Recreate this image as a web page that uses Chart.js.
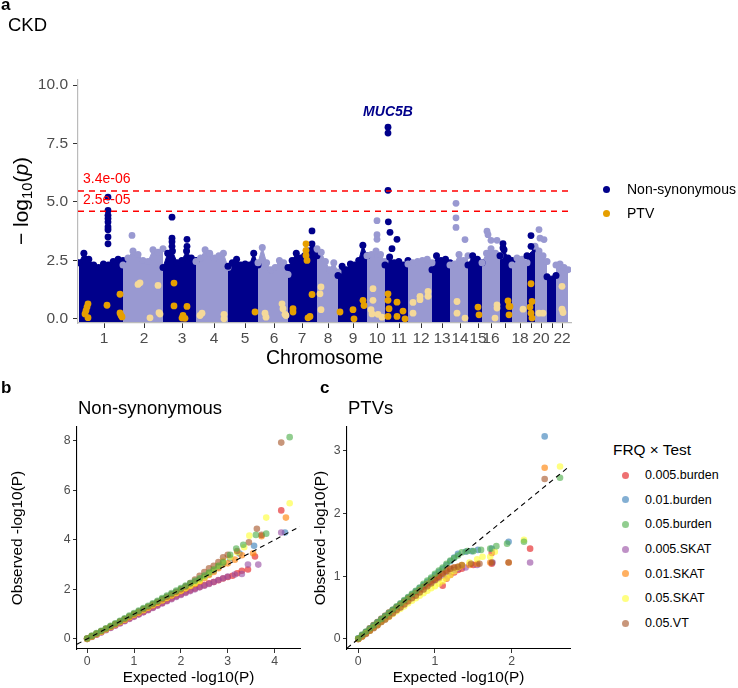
<!DOCTYPE html>
<html><head><meta charset="utf-8">
<script src="https://cdn.jsdelivr.net/npm/chart.js@4.4.1/dist/chart.umd.min.js"></script>
<style>
html,body{margin:0;padding:0;background:#fff;}
#wrap{position:relative;width:738px;height:688px;overflow:hidden;font-family:'Liberation Sans',Arial,Helvetica,sans-serif;color:#000;}
canvas{position:absolute;}
.t{position:absolute;white-space:nowrap;line-height:1;}
.dot{position:absolute;border-radius:50%;width:7px;height:7px;}
</style></head><body>
<div id="wrap">
<canvas id="ca" width="738" height="380" style="left:0;top:0;width:738px;height:380px"></canvas>
<canvas id="cb" width="310" height="308" style="left:0;top:380px;width:310px;height:308px"></canvas>
<canvas id="cc" width="290" height="308" style="left:310px;top:380px;width:290px;height:308px"></canvas>

<div class="t" style="left:1px;top:-4.4px;font-size:17px;font-weight:bold">a</div>
<div class="t" style="left:8px;top:16.3px;font-size:18.5px">CKD</div>
<div class="t" style="left:388px;top:104.1px;font-size:14px;font-weight:bold;font-style:italic;color:#00008B;transform:translateX(-50%)">MUC5B</div>
<div class="t" id="thr0" style="left:83px;top:171.1px;font-size:14px;color:#FF0000"></div>
<div class="t" id="thr1" style="left:83px;top:192.1px;font-size:14px;color:#FF0000"></div>
<div class="t" style="left:20px;top:201px;font-size:21px;transform:translate(-50%,-50%) rotate(-90deg)">&minus;&nbsp;log<span style="font-size:0.7em;position:relative;top:0.3em">10</span>(<i>p</i>)</div>
<div class="dot" style="left:602.5px;top:185.5px;background:#00008B"></div>
<div class="t" style="left:627px;top:182.1px;font-size:14px">Non-synonymous</div>
<div class="dot" style="left:602.5px;top:209.5px;background:#E69F00"></div>
<div class="t" style="left:627px;top:206.1px;font-size:14px">PTV</div>

<div class="t" style="left:1px;top:378.6px;font-size:17px;font-weight:bold">b</div>
<div class="t" style="left:320px;top:378.6px;font-size:17px;font-weight:bold">c</div>
<div class="t" style="left:78px;top:399.3px;font-size:18.5px">Non-synonymous</div>
<div class="t" style="left:348px;top:399.3px;font-size:18.5px">PTVs</div>
<div class="t" style="left:613px;top:441.5px;font-size:15.4px">FRQ &times; Test</div>
<div id="qqLegend"></div>
</div>
<script>
// ---------------- Panel a: Manhattan data ----------------
const chromosomes = ['1','2','3','4','5','6','7','8','9','10','11','12','13','14','15','16','17','18','19','20','21','22'];
const chrLabels  = ['1','2','3','4','5','6','7','8','9','10','11','12','13','14','15','16','','18','','20','','22'];
// cumulative genomic position (Mb-like units): chromosome extent and axis tick
const chrStart = [6,270,510,708,900,1080,1260,1434,1560,1734,1842,1980,2124,2232,2340,2424,2532,2604,2694,2742,2814,2868];
const chrEnd   = [270,510,708,900,1080,1260,1434,1560,1734,1842,1980,2124,2232,2340,2424,2532,2604,2694,2742,2814,2868,2940];
const chrTick  = [156,396,624,816,1002,1176,1344,1500,1650,1794,1926,2058,2184,2292,2400,2478,2562,2652,2718,2778,2844,2904];
const genomeEnd = 2958;
// upper edge of the dense cloud of non-synonymous genes (-log10 p), left to right in each chromosome
const cloudTop = [
 [2.4,2.8,2.55,2.3,2.2,2.35,2.3,2.45,2.55,2.5],
 [2.3,2.6,2.9,2.75,2.5,2.45,2.95,2.85,3.0],
 [2.2,2.8,2.9,2.4,2.5,2.9,2.6,2.5],
 [2.45,2.6,2.95,2.8,2.6,2.7,2.8,2.2],
 [2.25,2.4,2.55,2.3,2.35,2.3,2.8,2.3],
 [2.4,3.05,2.4,2.1,2.2,2.5,2.4,1.9],
 [2.2,2.5,2.8,2.6,2.7,2.9,3.0,2.7],
 [3.0,2.85,2.45,2.1,2.4,2.0],
 [1.85,2.25,2.1,2.35,2.3,2.5,3.15,2.7],
 [2.7,2.75,2.9,2.75,2.45],
 [2.3,2.65,2.4,2.45,2.3,2.5],
 [2.35,2.4,2.45,2.5,2.55,2.4],
 [2.1,2.7,2.5,2.55,2.4],
 [2.3,2.35,2.75,2.5,2.7],
 [2.3,2.7,2.55,2.4],
 [2.4,2.8,3.0,2.8,2.7],
 [2.7,2.95,2.6,2.5],
 [2.3,2.6,2.55,2.4],
 [2.7,3.0],
 [3.1,2.9,2.7,2.45],
 [1.8,1.85],
 [2.3,2.35,2.2,2.1]
];
// non-synonymous genes standing above the cloud
const hitChr  = [1,1,1,1,1,1,1,1,1, 2, 3,3,3,3,3,3, 7,7, 10,10,10, 11,11,11,11,11,11,11, 14,14,14,14, 16,16,16,16, 17,17, 19,19, 20,20,20];
const hitPos  = [180,180,180,180,180,180,180,180,180, 324, 564,564,564,564,654,654, 1404,1404, 1794,1794,1794, 1860,1860,1860,1862,1872,1914,1884, 2268,2268,2268,2322, 2454,2460,2478,2514, 2550,2550, 2718,2718, 2766,2772,2796];
const hitLogP = [5.21,4.64,4.43,4.29,4.14,3.93,3.81,3.5,3.21, 3.57, 4.35,3.45,3.3,3.1,3.4,3.1, 3.76,3.21, 4.2,3.6,3.4, 8.2,7.95,5.5,4.15,3.7,3.4,3.0, 4.94,4.32,3.91,3.39, 3.75,3.6,3.36,3.36, 3.22,3.03, 3.56,3.1, 3.82,3.45,3.39];
// PTV genes
const ptvChr  = [1,1,1,1,1,1,1,1,1,1, 2,2,2,2,2,2, 3,3,3,3,3,3, 4,4,4,4, 5, 6,6,6,6,6,6, 7,7,7,7,7,7,7,7,7, 8,8,8, 9,9,9,9,9, 10,10,10,10,10,10, 11,11,11,11,11,11,11,11, 12,12,12,12,12,12, 14,14,14, 15,15, 16,16,16, 17,17,17,17, 18, 19,19,19,19,19, 20,20, 22,22,22];
const ptvPos  = [60,54,48,42,60,174,252,252,258,264, 372,360,480,432,486,492, 576,576,624,630,654,642, 732,744,876,876, 1062, 1122,1128,1224,1230,1242,1248, 1368,1368,1368,1374,1404,1290,1290,1380,1392, 1458,1452,1458, 1572,1650,1656,1710,1716, 1770,1770,1758,1764,1800,1824, 1860,1860,1866,1860,1914,1914,1950,1962, 2010,2010,2052,2052,2100,2100, 2274,2274,2322, 2400,2406, 2502,2514,2514, 2580,2586,2586,2592, 2670, 2718,2712,2718,2724,2724, 2766,2790, 2904,2904,2910];
const ptvLogP = [0.64,0.5,0.35,0.21,0.05,0.58,1.05,0.25,0.15,0.08, 1.54,1.47,1.43,0.04,0.26,0.2, 1.53,0.55,0.03,0.14,0.53,0.02, 0.14,0.24,0.19,0.0, 0.29, 0.24,0.07,0.64,0.43,0.19,0.14, 3.21,2.93,2.71,2.5,1.04,0.43,0.29,0.04,0.1, 1.36,1.07,0.39, 0.29,0.39,0.0,0.79,0.57, 1.29,0.79,0.39,0.21,0.19,0.07, 1.07,0.79,0.43,0.1,0.71,0.1,0.33,0.0, 0.7,0.24,0.96,0.82,1.17,0.96, 0.74,0.24,0.03, 0.5,0.17, 0.03,0.6,0.46, 0.77,0.53,0.17,0.53, 0.41, 1.5,0.5,0.24,0.74,0.03, 0.24,0.24, 1.39,0.41,0.27];
const thresholdP = [3.4e-6, 2.5e-5];
const thresholdLabels = ['3.4e-06','2.5e-05'];
const yTicksA = [0, 2.5, 5, 7.5, 10];

// ---------------- Panels b, c: QQ data ----------------
const qqSeries = ['0.005.burden','0.01.burden','0.05.burden','0.005.SKAT','0.01.SKAT','0.05.SKAT','0.05.VT'];
const qqColors = ['#E41A1C','#377EB8','#4DAF4A','#984EA3','#FF7F00','#FFFF33','#A65628'];
const qqDrawOrder = [6,5,0,4,3,2,1];

const qqExpB = [0,0.1,0.2,0.3,0.4,0.5,0.6,0.7,0.8,0.9,1.0,1.1,1.2,1.3,1.4,1.5,1.6,1.7,1.8,1.9,2.0,2.1,2.2,2.3,2.4,2.5,2.6,2.7,2.8,2.9];
const nsBurden005 = [0,0.09,0.18,0.27,0.37,0.46,0.55,0.64,0.73,0.82,0.91,1.0,1.09,1.18,1.27,1.36,1.45,1.54,1.63,1.72,1.8,1.88,1.96,2.03,2.1,2.17,2.24,2.3,2.37,2.44];
const nsBurden01  = [0,0.1,0.2,0.3,0.4,0.5,0.6,0.7,0.8,0.9,1.0,1.1,1.2,1.3,1.4,1.5,1.6,1.7,1.8,1.9,2.0,2.1,2.2,2.3,2.4,2.5,2.62,2.75,2.9,3.1];
const nsBurden05  = [0.02,0.13,0.23,0.33,0.43,0.53,0.63,0.73,0.83,0.94,1.04,1.14,1.24,1.34,1.44,1.54,1.65,1.75,1.85,1.95,2.05,2.15,2.25,2.35,2.45,2.56,2.68,2.8,2.95,3.08];
const nsSkat005   = [0,0.08,0.17,0.26,0.35,0.44,0.53,0.62,0.71,0.8,0.89,0.98,1.07,1.16,1.25,1.34,1.43,1.52,1.6,1.69,1.77,1.85,1.93,2.0,2.08,2.15,2.22,2.3,2.38,2.45];
const nsSkat01    = [0,0.1,0.19,0.29,0.39,0.48,0.58,0.68,0.77,0.87,0.97,1.06,1.16,1.26,1.35,1.45,1.55,1.64,1.74,1.84,1.93,2.03,2.13,2.22,2.32,2.45,2.58,2.7,2.85,3.0];
const nsSkat05    = [0,0.1,0.2,0.29,0.39,0.49,0.59,0.68,0.78,0.88,0.98,1.07,1.17,1.27,1.37,1.46,1.56,1.66,1.76,1.85,1.95,2.05,2.15,2.25,2.35,2.5,2.65,2.8,2.95,3.15];
const nsVT05      = [0.01,0.11,0.21,0.31,0.41,0.5,0.6,0.7,0.8,0.9,1.0,1.1,1.2,1.3,1.4,1.5,1.6,1.7,1.8,1.9,2.0,2.12,2.25,2.4,2.55,2.7,2.85,2.95,3.1,3.3];
// tails: [expected, observed]
const nsTailBurden005 = [[3.0,2.5],[3.1,2.55],[3.2,2.65],[3.3,2.75],[3.43,2.8],[3.58,3.33],[4.14,5.19]];
const nsTailBurden01  = [[3.05,3.25],[3.25,3.45],[3.56,3.76],[4.22,4.3]];
const nsTailBurden05  = [[3.05,3.4],[3.18,3.65],[3.33,3.8],[3.6,4.2],[3.82,4.25],[4.32,8.15]];
const nsTailSkat005   = [[3.0,2.52],[3.15,2.6],[3.3,2.62],[3.43,3.0],[3.65,3.0],[4.14,4.3]];
const nsTailSkat01    = [[3.0,3.05],[3.15,3.2],[3.3,3.38],[3.54,3.46],[3.72,4.15],[4.24,4.9]];
const nsTailSkat05    = [[3.05,3.3],[3.2,3.5],[3.35,3.7],[3.46,4.17],[3.82,4.9],[4.32,5.48]];
const nsTailVT05      = [[3.0,3.4],[3.2,3.55],[3.45,3.9],[3.62,4.45],[3.72,4.2],[4.14,7.93]];
const xTicksB = [0,1,2,3,4];
const yTicksB = [0,2,4,6,8];

const qqExpC = [0,0.05,0.1,0.15,0.2,0.25,0.3,0.35,0.4,0.45,0.5,0.55,0.6,0.65,0.7,0.75,0.8,0.85,0.9,0.95,1.0,1.05,1.1,1.15,1.2,1.25,1.3];
const ptBurden005 = [0,0.06,0.11,0.17,0.22,0.27,0.32,0.37,0.42,0.46,0.51,0.55,0.6,0.65,0.69,0.74,0.78,0.83,0.87,0.91,0.95,0.97,0.85,0.96,1.02,1.06,1.1];
const ptBurden01  = [0.01,0.06,0.11,0.16,0.21,0.26,0.31,0.36,0.41,0.46,0.51,0.56,0.61,0.66,0.71,0.76,0.81,0.86,0.91,0.96,1.02,1.07,1.12,1.18,1.24,1.3,1.36];
const ptBurden05  = [0.01,0.07,0.12,0.17,0.22,0.27,0.32,0.37,0.42,0.47,0.52,0.57,0.62,0.67,0.72,0.77,0.82,0.88,0.93,0.98,1.04,1.09,1.14,1.2,1.25,1.29,1.33];
const ptSkat005   = [0,0.04,0.09,0.13,0.18,0.22,0.27,0.31,0.36,0.41,0.46,0.51,0.56,0.61,0.66,0.7,0.75,0.79,0.84,0.88,0.93,0.97,1.01,1.05,1.08,1.1,1.12];
const ptSkat01    = [0,0.04,0.09,0.14,0.19,0.24,0.29,0.34,0.39,0.44,0.49,0.54,0.59,0.64,0.69,0.73,0.78,0.83,0.88,0.93,0.97,1.01,1.05,1.09,1.12,1.14,1.15];
const ptSkat05    = [0,0.04,0.09,0.13,0.18,0.22,0.27,0.31,0.35,0.4,0.44,0.48,0.52,0.57,0.61,0.65,0.69,0.73,0.77,0.81,0.84,0.88,0.92,0.97,1.02,1.08,1.14];
const ptVT05      = [0,0.04,0.08,0.13,0.17,0.22,0.27,0.31,0.36,0.41,0.46,0.5,0.55,0.6,0.65,0.69,0.74,0.79,0.84,0.89,0.94,0.99,1.04,1.08,1.12,1.14,1.15];
const ptTailBurden005 = [[1.35,1.12],[1.5,1.18],[1.74,1.2],[1.74,1.37],[2.24,1.44]];
const ptTailBurden01  = [[1.4,1.39],[1.48,1.4],[1.56,1.42],[1.74,1.44],[1.96,1.55],[2.43,3.23]];
const ptTailBurden05  = [[1.35,1.38],[1.42,1.4],[1.5,1.4],[1.6,1.42],[1.72,1.44],[1.8,1.48],[1.94,1.52],[2.16,1.55],[2.63,2.57]];
const ptTailSkat005   = [[1.4,1.14],[1.55,1.18],[1.75,1.22],[2.24,1.22]];
const ptTailSkat01    = [[1.35,1.17],[1.45,1.18],[1.55,1.2],[1.72,1.22],[1.96,1.22],[2.43,2.73]];
const ptTailSkat05    = [[1.35,1.18],[1.45,1.22],[1.55,1.27],[1.62,1.31],[1.72,1.31],[1.78,1.39],[2.16,1.58],[2.63,2.75]];
const ptTailVT05      = [[1.35,1.18],[1.47,1.2],[1.58,1.2],[1.74,1.22],[1.96,1.22],[2.43,2.55]];
const xTicksC = [0,1,2];
const yTicksC = [0,1,2,3];

// ---------------- rendering ----------------
Chart.defaults.font.family = "'Liberation Sans', Arial, Helvetica, sans-serif";
Chart.defaults.color = '#4D4D4D';
const DARK = '#00008B', LIGHT = '#9999D1', PTV_DARK = '#E69F00', PTV_LIGHT = '#F5D999';

function alpha(hex, a) {
  const n = parseInt(hex.slice(1), 16);
  return `rgba(${(n>>16)&255},${(n>>8)&255},${n&255},${a})`;
}
function baseOpts(extra) {
  return Object.assign({
    responsive: false, animation: false, devicePixelRatio: 1, events: [],
    plugins: { legend: { display: false }, tooltip: { enabled: false } }
  }, extra);
}
function axis(o) {
  return {
    type: 'linear', min: o.min, max: o.max,
    afterBuildTicks: s => { s.ticks = o.ticks.map(v => ({ value: v })); },
    afterFit: s => { if (o.width != null) s.width = o.width; if (o.height != null) s.height = o.height; },
    ticks: { autoSkip: false, maxRotation: 0, minRotation: 0, padding: o.pad, color: '#4D4D4D',
             font: { size: o.fontSize }, callback: o.fmt },
    grid: { display: true, drawOnChartArea: false, drawTicks: true, tickLength: o.tl, tickColor: '#333333', tickWidth: 1 },
    border: { display: true, color: o.lineColor, width: o.lineWidth },
    title: o.title ? { display: true, text: o.title, color: '#000', font: { size: o.titleSize }, padding: o.titlePad } : { display: false }
  };
}

// Panel a
document.getElementById('thr0').textContent = thresholdLabels[0];
document.getElementById('thr1').textContent = thresholdLabels[1];

const cloudX = (c, j, n) => chrStart[c] + (chrEnd[c] - chrStart[c]) * (n > 1 ? j / (n - 1) : 0.5);
const cloudSets = cloudTop.map((tops, c) => {
  const col = (c % 2 === 0) ? DARK : LIGHT;
  return {
    type: 'line',
    data: tops.map((v, j) => ({ x: cloudX(c, j, tops.length), y: v })),
    borderColor: col, backgroundColor: col, borderWidth: 1, showLine: true, tension: 0,
    pointRadius: 0, fill: { value: -0.14 }, order: 4
  };
});
// dots along the cloud's upper edge
const cloudEdgeX = [], cloudEdgeY = [], cloudEdgeC = [];
cloudTop.forEach((tops, c) => tops.forEach((v, j) => {
  cloudEdgeX.push(cloudX(c, j, tops.length)); cloudEdgeY.push(v); cloudEdgeC.push(c % 2 === 0 ? DARK : LIGHT);
}));
const cloudEdgeSet = {
  type: 'scatter',
  data: cloudEdgeX.map((x, i) => ({ x: x, y: cloudEdgeY[i] })),
  backgroundColor: cloudEdgeC, pointRadius: 3.5, borderWidth: 0, order: 3
};
const hitSet = {
  type: 'scatter',
  data: hitPos.map((x, i) => ({ x: x, y: hitLogP[i] })),
  backgroundColor: hitChr.map(c => c % 2 ? DARK : LIGHT),
  pointRadius: 3.4, borderWidth: 0, order: 2
};
const ptvSet = {
  type: 'scatter',
  data: ptvPos.map((x, i) => ({ x: x, y: ptvLogP[i] })),
  backgroundColor: ptvChr.map(c => c % 2 ? PTV_DARK : PTV_LIGHT),
  pointRadius: 3.4, borderWidth: 0, order: 1
};
const thrSets = thresholdP.map(p => ({
  type: 'line',
  data: [{ x: 0, y: -Math.log10(p) }, { x: genomeEnd, y: -Math.log10(p) }],
  borderColor: '#FF0000', borderWidth: 1.3, borderDash: [6, 5], pointRadius: 0, fill: false, order: 0
}));

new Chart(document.getElementById('ca'), {
  type: 'scatter',
  data: { datasets: [...thrSets, ptvSet, hitSet, cloudEdgeSet, ...cloudSets] },
  options: baseOpts({
    layout: { padding: { left: 0, top: 80, right: 167, bottom: 0 } },
    scales: {
      x: axis({ min: 0, max: genomeEnd, ticks: chrTick, height: 57, pad: 1.5, tl: 5, fontSize: 15.5,
                fmt: (v, i) => chrLabels[i], lineColor: '#BBBBBB', lineWidth: 1.2,
                title: 'Chromosome', titleSize: 19.5, titlePad: { top: 0, bottom: 10 } }),
      y: axis({ min: -0.18, max: 10.22, ticks: yTicksA, width: 78, pad: 5, tl: 5, fontSize: 15.5,
                fmt: v => v.toFixed(1), lineColor: '#BBBBBB', lineWidth: 1.2 })
    }
  })
});

// Panels b and c
function qqSets(exp, bands, tails, lo, hi) {
  const sets = qqSeries.map((name, i) => ({
    type: 'scatter', label: name,
    data: exp.map((e, j) => ({ x: e, y: bands[i][j] })).concat(tails[i].map(p => ({ x: p[0], y: p[1] }))),
    backgroundColor: alpha(qqColors[i], 0.62), pointRadius: 3.3, borderWidth: 0, order: qqDrawOrder[i] + 1
  }));
  sets.push({ type: 'line', data: [{ x: lo, y: lo }, { x: hi, y: hi }], borderColor: '#000', borderWidth: 1.1,
              borderDash: [5, 4], pointRadius: 0, fill: false, order: 0 });
  return sets;
}

new Chart(document.getElementById('cb'), {
  type: 'scatter',
  data: { datasets: qqSets(qqExpB,
    [nsBurden005, nsBurden01, nsBurden05, nsSkat005, nsSkat01, nsSkat05, nsVT05],
    [nsTailBurden005, nsTailBurden01, nsTailBurden05, nsTailSkat005, nsTailSkat01, nsTailSkat05, nsTailVT05],
    -0.216, 4.54) },
  options: baseOpts({
    layout: { padding: { left: 0, top: 47, right: 10, bottom: 0 } },
    scales: {
      x: axis({ min: -0.216, max: 4.54, ticks: xTicksB, height: 39, pad: 1, tl: 4, fontSize: 12.3,
                fmt: v => String(v), lineColor: '#000', lineWidth: 1.1,
                title: 'Expected -log10(P)', titleSize: 15.4, titlePad: { top: 0, bottom: 1 } }),
      y: axis({ min: -0.41, max: 8.56, ticks: yTicksB, width: 77, pad: 2.5, tl: 4, fontSize: 12.3,
                fmt: v => String(v), lineColor: '#000', lineWidth: 1.1,
                title: 'Observed -log10(P)', titleSize: 15.4, titlePad: { top: 8.8, bottom: 0 } })
    }
  })
});

new Chart(document.getElementById('cc'), {
  type: 'scatter',
  data: { datasets: qqSets(qqExpC,
    [ptBurden005, ptBurden01, ptBurden05, ptSkat005, ptSkat01, ptSkat05, ptVT05],
    [ptTailBurden005, ptTailBurden01, ptTailBurden05, ptTailSkat005, ptTailSkat01, ptTailSkat05, ptTailVT05],
    -0.147, 2.76) },
  options: baseOpts({
    layout: { padding: { left: 0, top: 47, right: 30, bottom: 0 } },
    scales: {
      x: axis({ min: -0.147, max: 2.76, ticks: xTicksC, height: 39, pad: 1, tl: 4, fontSize: 12.3,
                fmt: v => String(v), lineColor: '#000', lineWidth: 1.1,
                title: 'Expected -log10(P)', titleSize: 15.4, titlePad: { top: 0, bottom: 1 } }),
      y: axis({ min: -0.16, max: 3.38, ticks: yTicksC, width: 37, pad: 2.5, tl: 4, fontSize: 12.3,
                fmt: v => String(v), lineColor: '#000', lineWidth: 1.1,
                title: 'Observed -log10(P)', titleSize: 15.4, titlePad: { top: 1.8, bottom: 0 } })
    }
  })
});

// legend for QQ panels
const lg = document.getElementById('qqLegend');
qqSeries.forEach((name, i) => {
  const y = 475 + 24.7 * i;
  const d = document.createElement('div');
  d.className = 'dot';
  d.style.left = (625 - 3.5) + 'px'; d.style.top = (y - 3.5) + 'px';
  d.style.background = alpha(qqColors[i], 0.62);
  lg.appendChild(d);
  const t = document.createElement('div');
  t.className = 't';
  t.style.left = '645px'; t.style.top = (y - 6.08) + 'px'; t.style.fontSize = '12.5px';
  t.textContent = name;
  lg.appendChild(t);
});
</script>
</body></html>
